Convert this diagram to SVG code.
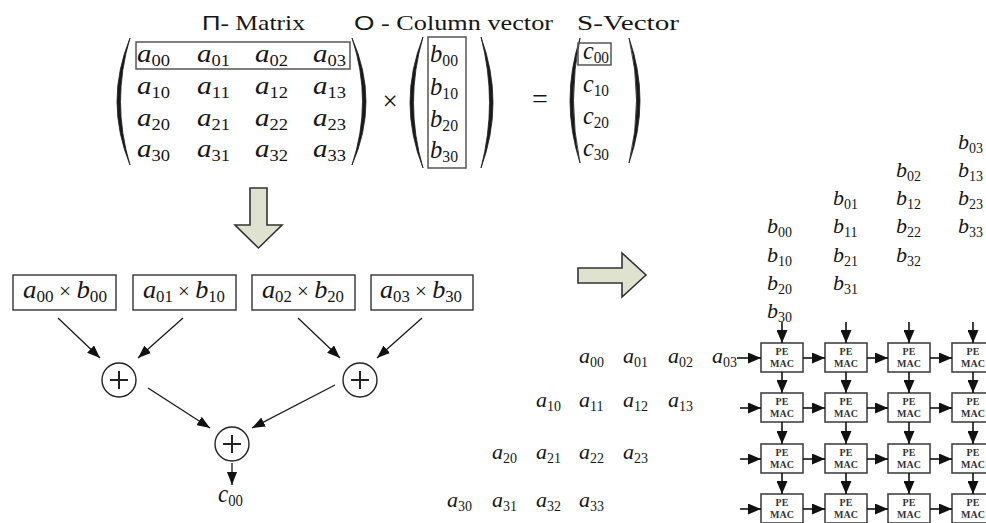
<svg xmlns="http://www.w3.org/2000/svg" width="986" height="523" viewBox="0 0 986 523">
  <style>
    .bg { fill: #ffffff; }
    .m { font-family: "Liberation Serif", "Times New Roman", serif; fill: #161616; }
    .v { font-style: italic; font-size: 25px; }
    .s { font-size: 16px; }
    .op { font-size: 20px; }
    .st .v { font-size: 22px; }
    .st .s { font-size: 14px; }
    .t { font-family: "Liberation Serif", serif; font-size: 21px; fill: #161616; }
    .sans { font-family: "Liberation Sans", Arial, sans-serif; }
    .paren { fill: #1a1a1a; stroke: #1a1a1a; stroke-width: 0.8; }
    .hl { fill: none; stroke: #555; stroke-width: 1.5; }
    .pbox { fill: #fff; stroke: #333; stroke-width: 1.4; }
    .adder { fill: #fff; stroke: #222; stroke-width: 1.4; }
    .plus { stroke: #222; stroke-width: 2; }
    .big { fill: #dfe2cf; stroke: #333; stroke-width: 1.6; stroke-linejoin: miter; }
    .tree { stroke: #1a1a1a; stroke-width: 1.3; fill: none; marker-end: url(#headT); }
    .flow { stroke: #111; stroke-width: 1.6; fill: none; marker-end: url(#headP); }
    .pe { fill: #fff; stroke: #444; stroke-width: 1.6; }
    .pet { font-family: "Liberation Serif", serif; font-weight: bold; font-size: 10px; fill: #333; text-anchor: middle; }
  </style>
  <defs>
    <marker id="headT" markerUnits="userSpaceOnUse" markerWidth="13" markerHeight="10" refX="13" refY="5" orient="auto">
      <path d="M0,0 L13,5 L0,10 Z" fill="#111"/>
    </marker>
    <marker id="headP" markerUnits="userSpaceOnUse" markerWidth="13" markerHeight="11" refX="13" refY="5.5" orient="auto">
      <path d="M0,0 L13,5.5 L0,11 Z" fill="#111"/>
    </marker>
  </defs>

  <rect class="bg" x="0" y="0" width="986" height="523"/>

  <!-- headings -->
  <g id="headings">
    <text class="t" x="202" y="30" textLength="103" lengthAdjust="spacingAndGlyphs"><tspan class="sans">П</tspan>- Matrix</text>
    <text class="t" x="354" y="30" textLength="199" lengthAdjust="spacingAndGlyphs"><tspan class="sans">О</tspan> - Column vector</text>
    <text class="t" x="577" y="30" textLength="102" lengthAdjust="spacingAndGlyphs">S-Vector</text>
  </g>

  <!-- 4x4 matrix A -->
  <g id="matrix-a">
    <path class="paren" d="M130,38 Q104,101.5 130,165 Q111,101.5 130,38 Z"/>
    <path class="paren" d="M352,38 Q380,101.5 352,165 Q373,101.5 352,38 Z"/>
    <rect class="hl" x="136" y="42" width="214" height="27"/>
    <g class="m">
      <text x="137" y="62" textLength="33" lengthAdjust="spacingAndGlyphs"><tspan class="v">a</tspan><tspan class="s" dy="4">00</tspan></text>
      <text x="197" y="62" textLength="33" lengthAdjust="spacingAndGlyphs"><tspan class="v">a</tspan><tspan class="s" dy="4">01</tspan></text>
      <text x="255" y="62" textLength="33" lengthAdjust="spacingAndGlyphs"><tspan class="v">a</tspan><tspan class="s" dy="4">02</tspan></text>
      <text x="313" y="62" textLength="33" lengthAdjust="spacingAndGlyphs"><tspan class="v">a</tspan><tspan class="s" dy="4">03</tspan></text>
      <text x="137" y="94" textLength="33" lengthAdjust="spacingAndGlyphs"><tspan class="v">a</tspan><tspan class="s" dy="4">10</tspan></text>
      <text x="197" y="94" textLength="33" lengthAdjust="spacingAndGlyphs"><tspan class="v">a</tspan><tspan class="s" dy="4">11</tspan></text>
      <text x="255" y="94" textLength="33" lengthAdjust="spacingAndGlyphs"><tspan class="v">a</tspan><tspan class="s" dy="4">12</tspan></text>
      <text x="313" y="94" textLength="33" lengthAdjust="spacingAndGlyphs"><tspan class="v">a</tspan><tspan class="s" dy="4">13</tspan></text>
      <text x="137" y="126" textLength="33" lengthAdjust="spacingAndGlyphs"><tspan class="v">a</tspan><tspan class="s" dy="4">20</tspan></text>
      <text x="197" y="126" textLength="33" lengthAdjust="spacingAndGlyphs"><tspan class="v">a</tspan><tspan class="s" dy="4">21</tspan></text>
      <text x="255" y="126" textLength="33" lengthAdjust="spacingAndGlyphs"><tspan class="v">a</tspan><tspan class="s" dy="4">22</tspan></text>
      <text x="313" y="126" textLength="33" lengthAdjust="spacingAndGlyphs"><tspan class="v">a</tspan><tspan class="s" dy="4">23</tspan></text>
      <text x="137" y="157" textLength="33" lengthAdjust="spacingAndGlyphs"><tspan class="v">a</tspan><tspan class="s" dy="4">30</tspan></text>
      <text x="197" y="157" textLength="33" lengthAdjust="spacingAndGlyphs"><tspan class="v">a</tspan><tspan class="s" dy="4">31</tspan></text>
      <text x="255" y="157" textLength="33" lengthAdjust="spacingAndGlyphs"><tspan class="v">a</tspan><tspan class="s" dy="4">32</tspan></text>
      <text x="313" y="157" textLength="33" lengthAdjust="spacingAndGlyphs"><tspan class="v">a</tspan><tspan class="s" dy="4">33</tspan></text>
    </g>
  </g>

  <text class="m" x="390" y="110" font-size="27" text-anchor="middle">×</text>

  <!-- column vector B -->
  <g id="vector-b">
    <path class="paren" d="M423,37 Q397,102.5 423,168 Q404,102.5 423,37 Z"/>
    <path class="paren" d="M481,37 Q505,102.5 481,168 Q498,102.5 481,37 Z"/>
    <rect class="hl" x="428" y="37" width="38" height="131"/>
    <g class="m">
      <text x="430" y="62" textLength="28" lengthAdjust="spacingAndGlyphs"><tspan class="v">b</tspan><tspan class="s" dy="4">00</tspan></text>
      <text x="430" y="95" textLength="28" lengthAdjust="spacingAndGlyphs"><tspan class="v">b</tspan><tspan class="s" dy="4">10</tspan></text>
      <text x="430" y="127" textLength="28" lengthAdjust="spacingAndGlyphs"><tspan class="v">b</tspan><tspan class="s" dy="4">20</tspan></text>
      <text x="430" y="158" textLength="28" lengthAdjust="spacingAndGlyphs"><tspan class="v">b</tspan><tspan class="s" dy="4">30</tspan></text>
    </g>
  </g>

  <text class="m" x="540" y="108" font-size="28" text-anchor="middle">=</text>

  <!-- result vector S -->
  <g id="vector-s">
    <path class="paren" d="M580,38 Q560,100.5 580,163 Q567,100.5 580,38 Z"/>
    <path class="paren" d="M629,38 Q651,100.5 629,163 Q644,100.5 629,38 Z"/>
    <rect class="hl" x="578" y="43" width="33" height="22"/>
    <g class="m">
      <text x="583" y="59" textLength="26" lengthAdjust="spacingAndGlyphs"><tspan class="v">c</tspan><tspan class="s" dy="4">00</tspan></text>
      <text x="583" y="92" textLength="26" lengthAdjust="spacingAndGlyphs"><tspan class="v">c</tspan><tspan class="s" dy="4">10</tspan></text>
      <text x="583" y="124" textLength="26" lengthAdjust="spacingAndGlyphs"><tspan class="v">c</tspan><tspan class="s" dy="4">20</tspan></text>
      <text x="583" y="156" textLength="26" lengthAdjust="spacingAndGlyphs"><tspan class="v">c</tspan><tspan class="s" dy="4">30</tspan></text>
    </g>
  </g>

  <!-- block arrows -->
  <g id="block-arrows">
    <polygon class="big" points="250,188 267,188 267,225 282,225 258.5,248 235,225 250,225"/>
    <polygon class="big" points="578,268 622,268 622,253 646,275 622,297 622,283 578,283"/>
  </g>

  <!-- partial products -->
  <g id="prod-0">
    <rect class="pbox" x="13" y="275" width="103" height="35"/>
    <text class="m" x="65" y="298" text-anchor="middle" textLength="84" lengthAdjust="spacingAndGlyphs"><tspan class="v">a</tspan><tspan class="s" dy="4">00</tspan><tspan class="op" dy="-4"> × </tspan><tspan class="v">b</tspan><tspan class="s" dy="4">00</tspan></text>
  </g>
  <g id="prod-1">
    <rect class="pbox" x="133" y="275" width="103" height="35"/>
    <text class="m" x="184" y="298" text-anchor="middle" textLength="82" lengthAdjust="spacingAndGlyphs"><tspan class="v">a</tspan><tspan class="s" dy="4">01</tspan><tspan class="op" dy="-4"> × </tspan><tspan class="v">b</tspan><tspan class="s" dy="4">10</tspan></text>
  </g>
  <g id="prod-2">
    <rect class="pbox" x="252" y="275" width="103" height="35"/>
    <text class="m" x="303" y="298" text-anchor="middle" textLength="82" lengthAdjust="spacingAndGlyphs"><tspan class="v">a</tspan><tspan class="s" dy="4">02</tspan><tspan class="op" dy="-4"> × </tspan><tspan class="v">b</tspan><tspan class="s" dy="4">20</tspan></text>
  </g>
  <g id="prod-3">
    <rect class="pbox" x="371" y="275" width="102" height="35"/>
    <text class="m" x="421" y="298" text-anchor="middle" textLength="82" lengthAdjust="spacingAndGlyphs"><tspan class="v">a</tspan><tspan class="s" dy="4">03</tspan><tspan class="op" dy="-4"> × </tspan><tspan class="v">b</tspan><tspan class="s" dy="4">30</tspan></text>
  </g>

  <!-- adder tree -->
  <g id="add-0">
    <circle class="adder" cx="119" cy="380" r="17"/>
    <path class="plus" d="M110,380 H128 M119,371 V389"/>
  </g>
  <g id="add-1">
    <circle class="adder" cx="360" cy="380" r="17"/>
    <path class="plus" d="M351,380 H369 M360,371 V389"/>
  </g>
  <g id="add-2">
    <circle class="adder" cx="232" cy="444" r="17"/>
    <path class="plus" d="M223,444 H241 M232,435 V453"/>
  </g>
  <g id="result">
    <text class="m" x="218" y="502" textLength="25" lengthAdjust="spacingAndGlyphs"><tspan class="v">c</tspan><tspan class="s" dy="4">00</tspan></text>
  </g>

  <g id="tree-connectors">
    <line class="tree" x1="58" y1="318" x2="100" y2="358"/>
    <line class="tree" x1="183" y1="318" x2="138" y2="358"/>
    <line class="tree" x1="298" y1="318" x2="340" y2="358"/>
    <line class="tree" x1="422" y1="318" x2="377" y2="358"/>
    <line class="tree" x1="148" y1="388" x2="210" y2="428"/>
    <line class="tree" x1="335" y1="385" x2="252" y2="428"/>
    <line class="tree" x1="232" y1="463" x2="232" y2="485"/>
  </g>

  <!-- skewed input streams -->
  <g id="b-streams" class="m st">
    <text x="767" y="233"><tspan class="v">b</tspan><tspan class="s" dy="4">00</tspan></text>
    <text x="767" y="262"><tspan class="v">b</tspan><tspan class="s" dy="4">10</tspan></text>
    <text x="767" y="290"><tspan class="v">b</tspan><tspan class="s" dy="4">20</tspan></text>
    <text x="767" y="318"><tspan class="v">b</tspan><tspan class="s" dy="4">30</tspan></text>
    <text x="833" y="205"><tspan class="v">b</tspan><tspan class="s" dy="4">01</tspan></text>
    <text x="833" y="233"><tspan class="v">b</tspan><tspan class="s" dy="4">11</tspan></text>
    <text x="833" y="262"><tspan class="v">b</tspan><tspan class="s" dy="4">21</tspan></text>
    <text x="833" y="290"><tspan class="v">b</tspan><tspan class="s" dy="4">31</tspan></text>
    <text x="896" y="177"><tspan class="v">b</tspan><tspan class="s" dy="4">02</tspan></text>
    <text x="896" y="205"><tspan class="v">b</tspan><tspan class="s" dy="4">12</tspan></text>
    <text x="896" y="233"><tspan class="v">b</tspan><tspan class="s" dy="4">22</tspan></text>
    <text x="896" y="262"><tspan class="v">b</tspan><tspan class="s" dy="4">32</tspan></text>
    <text x="958" y="149"><tspan class="v">b</tspan><tspan class="s" dy="4">03</tspan></text>
    <text x="958" y="177"><tspan class="v">b</tspan><tspan class="s" dy="4">13</tspan></text>
    <text x="958" y="205"><tspan class="v">b</tspan><tspan class="s" dy="4">23</tspan></text>
    <text x="958" y="233"><tspan class="v">b</tspan><tspan class="s" dy="4">33</tspan></text>
  </g>

  <g id="a-streams" class="m st">
    <text x="579" y="363"><tspan class="v">a</tspan><tspan class="s" dy="4">00</tspan></text>
    <text x="623" y="363"><tspan class="v">a</tspan><tspan class="s" dy="4">01</tspan></text>
    <text x="668" y="363"><tspan class="v">a</tspan><tspan class="s" dy="4">02</tspan></text>
    <text x="712" y="363"><tspan class="v">a</tspan><tspan class="s" dy="4">03</tspan></text>
    <text x="536" y="407"><tspan class="v">a</tspan><tspan class="s" dy="4">10</tspan></text>
    <text x="579" y="407"><tspan class="v">a</tspan><tspan class="s" dy="4">11</tspan></text>
    <text x="623" y="407"><tspan class="v">a</tspan><tspan class="s" dy="4">12</tspan></text>
    <text x="668" y="407"><tspan class="v">a</tspan><tspan class="s" dy="4">13</tspan></text>
    <text x="492" y="459"><tspan class="v">a</tspan><tspan class="s" dy="4">20</tspan></text>
    <text x="536" y="459"><tspan class="v">a</tspan><tspan class="s" dy="4">21</tspan></text>
    <text x="579" y="459"><tspan class="v">a</tspan><tspan class="s" dy="4">22</tspan></text>
    <text x="623" y="459"><tspan class="v">a</tspan><tspan class="s" dy="4">23</tspan></text>
    <text x="447" y="507"><tspan class="v">a</tspan><tspan class="s" dy="4">30</tspan></text>
    <text x="492" y="507"><tspan class="v">a</tspan><tspan class="s" dy="4">31</tspan></text>
    <text x="536" y="507"><tspan class="v">a</tspan><tspan class="s" dy="4">32</tspan></text>
    <text x="579" y="507"><tspan class="v">a</tspan><tspan class="s" dy="4">33</tspan></text>
  </g>

  <!-- processing-element array -->
  <g id="pe-array">
    <g id="pe-0-0"><rect class="pe" x="761" y="343" width="42" height="29"/><text class="pet" x="782" y="355">PE</text><text class="pet" x="782" y="367">MAC</text></g>
    <g id="pe-0-1"><rect class="pe" x="825" y="343" width="42" height="29"/><text class="pet" x="846" y="355">PE</text><text class="pet" x="846" y="367">MAC</text></g>
    <g id="pe-0-2"><rect class="pe" x="888" y="343" width="42" height="29"/><text class="pet" x="909" y="355">PE</text><text class="pet" x="909" y="367">MAC</text></g>
    <g id="pe-0-3"><rect class="pe" x="952" y="343" width="42" height="29"/><text class="pet" x="973" y="355">PE</text><text class="pet" x="973" y="367">MAC</text></g>
    <g id="pe-1-0"><rect class="pe" x="761" y="393" width="42" height="29"/><text class="pet" x="782" y="405">PE</text><text class="pet" x="782" y="417">MAC</text></g>
    <g id="pe-1-1"><rect class="pe" x="825" y="393" width="42" height="29"/><text class="pet" x="846" y="405">PE</text><text class="pet" x="846" y="417">MAC</text></g>
    <g id="pe-1-2"><rect class="pe" x="888" y="393" width="42" height="29"/><text class="pet" x="909" y="405">PE</text><text class="pet" x="909" y="417">MAC</text></g>
    <g id="pe-1-3"><rect class="pe" x="952" y="393" width="42" height="29"/><text class="pet" x="973" y="405">PE</text><text class="pet" x="973" y="417">MAC</text></g>
    <g id="pe-2-0"><rect class="pe" x="761" y="444" width="42" height="29"/><text class="pet" x="782" y="456">PE</text><text class="pet" x="782" y="468">MAC</text></g>
    <g id="pe-2-1"><rect class="pe" x="825" y="444" width="42" height="29"/><text class="pet" x="846" y="456">PE</text><text class="pet" x="846" y="468">MAC</text></g>
    <g id="pe-2-2"><rect class="pe" x="888" y="444" width="42" height="29"/><text class="pet" x="909" y="456">PE</text><text class="pet" x="909" y="468">MAC</text></g>
    <g id="pe-2-3"><rect class="pe" x="952" y="444" width="42" height="29"/><text class="pet" x="973" y="456">PE</text><text class="pet" x="973" y="468">MAC</text></g>
    <g id="pe-3-0"><rect class="pe" x="761" y="494" width="42" height="29"/><text class="pet" x="782" y="506">PE</text><text class="pet" x="782" y="518">MAC</text></g>
    <g id="pe-3-1"><rect class="pe" x="825" y="494" width="42" height="29"/><text class="pet" x="846" y="506">PE</text><text class="pet" x="846" y="518">MAC</text></g>
    <g id="pe-3-2"><rect class="pe" x="888" y="494" width="42" height="29"/><text class="pet" x="909" y="506">PE</text><text class="pet" x="909" y="518">MAC</text></g>
    <g id="pe-3-3"><rect class="pe" x="952" y="494" width="42" height="29"/><text class="pet" x="973" y="506">PE</text><text class="pet" x="973" y="518">MAC</text></g>
  </g>

  <g id="pe-connectors">
    <!-- b inputs from above -->
    <line class="flow" x1="782" y1="322" x2="782" y2="343"/>
    <line class="flow" x1="846" y1="322" x2="846" y2="343"/>
    <line class="flow" x1="909" y1="322" x2="909" y2="343"/>
    <line class="flow" x1="973" y1="322" x2="973" y2="343"/>
    <!-- vertical links between rows -->
    <line class="flow" x1="782" y1="372" x2="782" y2="393"/>
    <line class="flow" x1="846" y1="372" x2="846" y2="393"/>
    <line class="flow" x1="909" y1="372" x2="909" y2="393"/>
    <line class="flow" x1="973" y1="372" x2="973" y2="393"/>
    <line class="flow" x1="782" y1="422" x2="782" y2="444"/>
    <line class="flow" x1="846" y1="422" x2="846" y2="444"/>
    <line class="flow" x1="909" y1="422" x2="909" y2="444"/>
    <line class="flow" x1="973" y1="422" x2="973" y2="444"/>
    <line class="flow" x1="782" y1="473" x2="782" y2="494"/>
    <line class="flow" x1="846" y1="473" x2="846" y2="494"/>
    <line class="flow" x1="909" y1="473" x2="909" y2="494"/>
    <line class="flow" x1="973" y1="473" x2="973" y2="494"/>
    <!-- a inputs from the left -->
    <line class="flow" x1="737" y1="358" x2="761" y2="358"/>
    <line class="flow" x1="740" y1="408" x2="761" y2="408"/>
    <line class="flow" x1="740" y1="459" x2="761" y2="459"/>
    <line class="flow" x1="740" y1="509" x2="761" y2="509"/>
    <!-- horizontal links between columns -->
    <line class="flow" x1="803" y1="358" x2="825" y2="358"/>
    <line class="flow" x1="867" y1="358" x2="888" y2="358"/>
    <line class="flow" x1="930" y1="358" x2="952" y2="358"/>
    <line class="flow" x1="803" y1="408" x2="825" y2="408"/>
    <line class="flow" x1="867" y1="408" x2="888" y2="408"/>
    <line class="flow" x1="930" y1="408" x2="952" y2="408"/>
    <line class="flow" x1="803" y1="459" x2="825" y2="459"/>
    <line class="flow" x1="867" y1="459" x2="888" y2="459"/>
    <line class="flow" x1="930" y1="459" x2="952" y2="459"/>
    <line class="flow" x1="803" y1="509" x2="825" y2="509"/>
    <line class="flow" x1="867" y1="509" x2="888" y2="509"/>
    <line class="flow" x1="930" y1="509" x2="952" y2="509"/>
  </g>
</svg>
